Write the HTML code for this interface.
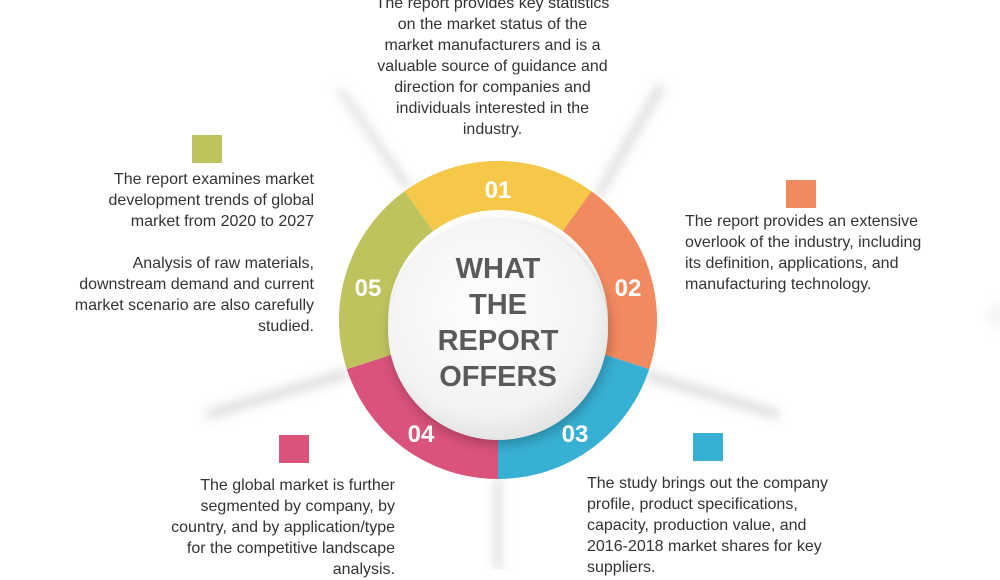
<!DOCTYPE html>
<html><head><meta charset="utf-8"><style>
body{margin:0;width:1000px;height:570px;overflow:hidden;background:#fff;font-family:"Liberation Sans",sans-serif;position:relative}
.t{position:absolute;font-size:16px;line-height:21px;color:#333;white-space:nowrap}
.sq{position:absolute;width:30px;height:28px}
</style></head><body>
<svg width="1000" height="570" style="position:absolute;left:0;top:0">
<defs>
<filter id="b" x="-50%" y="-50%" width="200%" height="200%"><feGaussianBlur stdDeviation="5"/></filter>
<filter id="s" x="-50%" y="-50%" width="200%" height="200%"><feGaussianBlur stdDeviation="6"/></filter>
<radialGradient id="c" cx="45%" cy="40%" r="60%"><stop offset="0" stop-color="#fff"/><stop offset="0.8" stop-color="#f3f3f3"/><stop offset="1" stop-color="#e4e4e4"/></radialGradient>
</defs>
<g fill="#d2d2d2" opacity="0.7" filter="url(#b)">
<polygon points="405,190 335,88 345,90 412,186"/>
<polygon points="593,195 658,82 666,88 600,200"/>
<polygon points="648,370 780,410 778,420 645,380"/>
<polygon points="347,368 205,410 208,420 350,378"/>
<polygon points="494,478 494,570 502,570 502,478"/>
</g>
<path d="M 1000 300 L 988 315 L 1000 330 Z" fill="#eee" filter="url(#b)"/>
<g transform="translate(498,320)">
<path d="M -93.5 -128.7 A 159 159 0 0 1 93.5 -128.7 L 64.7 -89 A 110 110 0 0 0 -64.7 -89 Z" fill="#f5c84a"/>
<path d="M 93.5 -128.7 A 159 159 0 0 1 151.2 49.1 L 104.6 34 A 110 110 0 0 0 64.7 -89 Z" fill="#f28a5f"/>
<path d="M 151.2 49.1 A 159 159 0 0 1 0 159 L 0 110 A 110 110 0 0 0 104.6 34 Z" fill="#38b0d4"/>
<path d="M 0 159 A 159 159 0 0 1 -151.2 49.1 L -104.6 34 A 110 110 0 0 0 0 110 Z" fill="#d9537a"/>
<path d="M -151.2 49.1 A 159 159 0 0 1 -93.5 -128.7 L -64.7 -89 A 110 110 0 0 0 -104.6 34 Z" fill="#bfc35e"/>
<circle cx="2" cy="14" r="110" fill="#000" opacity="0.25" filter="url(#s)"/>
<circle cx="0" cy="10" r="110" fill="url(#c)"/>
</g>
<g font-family="Liberation Sans, sans-serif" font-weight="bold" fill="#fff" font-size="24" text-anchor="middle">
<text x="498" y="198">01</text>
<text x="628" y="296">02</text>
<text x="575" y="442">03</text>
<text x="421" y="442">04</text>
<text x="368" y="296">05</text>
</g>
<g font-family="Liberation Sans, sans-serif" font-weight="bold" fill="#5a5a5a" font-size="29" text-anchor="middle">
<text x="498" y="278">WHAT</text>
<text x="498" y="314">THE</text>
<text x="498" y="350">REPORT</text>
<text x="498" y="386">OFFERS</text>
</g>
</svg>
<div class="t" style="left:355px;top:-7px;width:275px;text-align:center">The report provides key statistics<br>on the market status of the<br>market manufacturers and is a<br>valuable source of guidance and<br>direction for companies and<br>individuals interested in the<br>industry.</div>
<div class="sq" style="left:192px;top:135px;background:#bfc35e"></div>
<div class="t" style="left:30px;top:169px;width:284px;text-align:right">The report examines market<br>development trends of global<br>market from 2020 to 2027<br><br>Analysis of raw materials,<br>downstream demand and current<br>market scenario are also carefully<br>studied.</div>
<div class="sq" style="left:786px;top:180px;background:#f28a5f"></div>
<div class="t" style="left:685px;top:211px">The report provides an extensive<br>overlook of the industry, including<br>its definition, applications, and<br>manufacturing technology.</div>
<div class="sq" style="left:279px;top:435px;background:#d9537a"></div>
<div class="t" style="left:110px;top:475px;width:285px;text-align:right">The global market is further<br>segmented by company, by<br>country, and by application/type<br>for the competitive landscape<br>analysis.</div>
<div class="sq" style="left:693px;top:433px;background:#38b0d4"></div>
<div class="t" style="left:587px;top:473px">The study brings out the company<br>profile, product specifications,<br>capacity, production value, and<br>2016-2018 market shares for key<br>suppliers.</div>
</body></html>
